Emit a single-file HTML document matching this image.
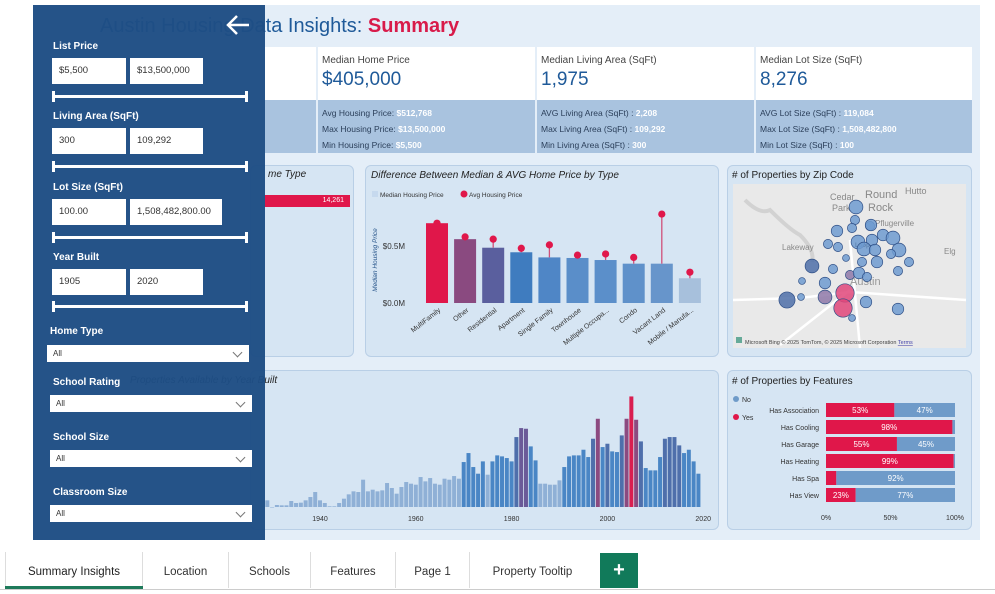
<!DOCTYPE html>
<html><head><meta charset="utf-8">
<style>
*{box-sizing:border-box;margin:0;padding:0}
body{width:995px;height:594px;overflow:hidden;background:#fff;font-family:"Liberation Sans",sans-serif;position:relative}
.abs{position:absolute}
.canvas{left:33px;top:5px;width:947px;height:535px;background:#e4eef8}
.card{background:#d6e5f3;border:1px solid #b9cfe6;border-radius:6px}
.kt{font-size:10px;color:#444}
.kv{font-size:19px;color:#1f5a99}
.ks{font-size:8.5px;color:#2b3f5a;line-height:16px}
.ks b{color:#fff}
.panel{left:33px;top:5px;width:232px;height:535px;background:rgba(30,77,132,0.97)}
.lbl{color:#fff;font-size:10px;font-weight:bold}
.inp{background:#fff;font-size:9.5px;color:#333;padding-left:7px;line-height:26px;height:26px}
.sl{height:3px;background:#fff}
.sl:before,.sl:after{content:"";position:absolute;top:-4px;width:3px;height:11px;background:#fff}
.sl:before{left:0}.sl:after{right:0}
.dd{background:#fff;height:17px;font-size:8px;color:#333;padding-left:6px;line-height:17px}
.dd:after{content:"";position:absolute;right:8px;top:4px;width:6px;height:6px;border-right:1px solid #777;border-bottom:1px solid #777;transform:rotate(45deg)}
.tab{top:552px;height:36px;font-size:11.5px;color:#333;text-align:center;line-height:40px;border-right:1px solid #ddd}
.ct{font-size:10px;font-style:italic;color:#222}
</style></head><body>
<div class="abs canvas"></div>
<div class="abs" style="left:100px;top:15px;font-size:20px;color:#1f5a99">Austin Housing Data Insights: <b style="color:#d81b4a">Summary</b></div>

<div class="abs" style="left:265px;top:47px;width:707px;height:53px;background:#fff"></div>
<div class="abs" style="left:265px;top:100px;width:707px;height:53px;background:#a9c3df"></div>
<div class="abs" style="left:316px;top:47px;width:2px;height:106px;background:#e4eef8"></div>
<div class="abs" style="left:535px;top:47px;width:2px;height:106px;background:#e4eef8"></div>
<div class="abs" style="left:754px;top:47px;width:2px;height:106px;background:#e4eef8"></div>
<div class="abs" style="left:322px;top:55px"><div class="kt">Median Home Price</div><div class="kv" style="margin-top:3px">$405,000</div></div>
<div class="abs" style="left:541px;top:55px"><div class="kt">Median Living Area (SqFt)</div><div class="kv" style="margin-top:3px">1,975</div></div>
<div class="abs" style="left:760px;top:55px"><div class="kt">Median Lot Size (SqFt)</div><div class="kv" style="margin-top:3px">8,276</div></div>
<div class="abs ks" style="left:322px;top:105px">Avg Housing Price: <b>$512,768</b><br>Max Housing Price: <b>$13,500,000</b><br>Min Housing Price: <b>$5,500</b></div>
<div class="abs ks" style="left:541px;top:105px">AVG Living Area (SqFt) : <b>2,208</b><br>Max Living Area (SqFt) : <b>109,292</b><br>Min Living Area (SqFt) : <b>300</b></div>
<div class="abs ks" style="left:760px;top:105px">AVG Lot Size (SqFt) : <b>119,084</b><br>Max Lot Size (SqFt) : <b>1,508,482,800</b><br>Min Lot Size (SqFt) : <b>100</b></div>

<div class="abs card" style="left:250px;top:165px;width:104px;height:192px"></div>
<div class="abs" style="left:265px;top:195px;width:85px;height:12px;background:#e0174a;color:#fff;font-size:7px;text-align:right;padding-right:6px;line-height:12px">14,261</div>
<div class="abs ct" style="left:268px;top:169px">me Type</div>
<div class="abs card" style="left:365px;top:165px;width:354px;height:192px"></div>
<div class="abs card" style="left:727px;top:165px;width:245px;height:192px"></div>
<div class="abs card" style="left:250px;top:370px;width:469px;height:160px"></div>
<div class="abs card" style="left:727px;top:370px;width:245px;height:160px"></div>

<svg class="abs" style="left:0;top:0" width="995" height="594" id="charts">
<text x="371" y="178" font-size="10" font-style="italic" fill="#222">Difference Between Median &amp; AVG Home Price by Type</text>
<rect x="372" y="191" width="6" height="6" fill="#c6d9ee"/><text x="380" y="197" font-size="6.5" fill="#333">Median Housing Price</text>
<circle cx="464" cy="194" r="3.5" fill="#e0174a"/><text x="469" y="197" font-size="6.5" fill="#333">Avg Housing Price</text>
<text x="377" y="260" font-size="6.5" font-style="italic" fill="#1f4e85" transform="rotate(-90 377 260)" text-anchor="middle">Median Housing Price</text>
<g id="priceChart"></g>
<g id="yearChart"></g>
<text x="732" y="178" font-size="10" fill="#222"># of Properties by Zip Code</text>
<rect x="733" y="184" width="233" height="164" fill="#e9e9e9"/>
<path d="M745 200 Q760 215 770 210 Q790 230 800 235 Q815 250 812 262" stroke="#d2d2d2" stroke-width="4" fill="none"/>
<path d="M733 300 L800 298 L850 292 L966 300 M850 240 L860 348 M780 345 L850 290" stroke="#fff" stroke-width="2.5" fill="none"/>
<text x="830" y="200" font-size="9" fill="#888">Cedar</text><text x="832" y="211" font-size="9" fill="#888">Park</text>
<text x="865" y="198" font-size="11" fill="#888">Round</text><text x="868" y="211" font-size="11" fill="#888">Rock</text>
<text x="905" y="194" font-size="9" fill="#888">Hutto</text><text x="875" y="226" font-size="8" fill="#888">Pflugerville</text>
<text x="782" y="250" font-size="8" fill="#888">Lakeway</text><text x="855" y="247" font-size="6" fill="#000" font-weight="bold">Loop</text>
<text x="944" y="254" font-size="8" fill="#888">Elg</text><text x="850" y="285" font-size="11" fill="#999">Austin</text>
<g id="mapChart"></g>
<rect x="736" y="337" width="6" height="6" fill="#6a9"/>
<text x="745" y="344" font-size="5.5" fill="#444">Microsoft Bing © 2025 TomTom, © 2025 Microsoft Corporation  <tspan fill="#44a" text-decoration="underline">Terms</tspan></text>
<text x="130" y="383" font-size="10" font-style="italic" fill="#222">Properties Available by Year Built</text>
<text x="732" y="384" font-size="10" fill="#222"># of Properties by Features</text>
<circle cx="736" cy="399" r="3" fill="#6f9bc9"/><text x="742" y="402" font-size="7" fill="#333">No</text>
<circle cx="736" cy="417" r="3" fill="#e0174a"/><text x="742" y="420" font-size="7" fill="#333">Yes</text>
<g id="featChart"></g>
</svg>

<div class="abs panel"></div>
<svg class="abs" style="left:225px;top:12px" width="28" height="26"><path d="M24 13 H4 M12 4 L3 13 L12 22" stroke="#fff" stroke-width="2.5" fill="none"/></svg>
<div class="abs lbl" style="left:53px;top:41px">List Price</div>
<div class="abs inp" style="left:52px;top:58px;width:74px">$5,500</div>
<div class="abs inp" style="left:130px;top:58px;width:73px">$13,500,000</div>
<div class="abs sl" style="left:52px;top:95px;width:196px"></div>
<div class="abs lbl" style="left:53px;top:111px">Living Area (SqFt)</div>
<div class="abs inp" style="left:52px;top:128px;width:74px">300</div>
<div class="abs inp" style="left:130px;top:128px;width:73px">109,292</div>
<div class="abs sl" style="left:52px;top:165px;width:196px"></div>
<div class="abs lbl" style="left:53px;top:182px">Lot Size (SqFt)</div>
<div class="abs inp" style="left:52px;top:199px;width:74px">100.00</div>
<div class="abs inp" style="left:130px;top:199px;width:92px">1,508,482,800.00</div>
<div class="abs sl" style="left:52px;top:236px;width:196px"></div>
<div class="abs lbl" style="left:53px;top:252px">Year Built</div>
<div class="abs inp" style="left:52px;top:269px;width:74px">1905</div>
<div class="abs inp" style="left:130px;top:269px;width:73px">2020</div>
<div class="abs sl" style="left:52px;top:305px;width:196px"></div>
<div class="abs lbl" style="left:50px;top:326px">Home Type</div>
<div class="abs dd" style="left:47px;top:345px;width:202px">All</div>
<div class="abs lbl" style="left:53px;top:377px">School Rating</div>
<div class="abs dd" style="left:50px;top:395px;width:202px">All</div>
<div class="abs lbl" style="left:53px;top:432px">School Size</div>
<div class="abs dd" style="left:50px;top:450px;width:202px">All</div>
<div class="abs lbl" style="left:53px;top:487px">Classroom Size</div>
<div class="abs dd" style="left:50px;top:505px;width:202px">All</div>

<div class="abs" style="left:0;top:589px;width:995px;height:1px;background:#ccc"></div>
<div class="abs tab" style="left:5px;width:138px;color:#222;border-left:1px solid #ddd">Summary Insights</div>
<div class="abs" style="left:5px;top:586px;width:138px;height:3px;background:#1e7a5a"></div>
<div class="abs tab" style="left:143px;width:86px">Location</div>
<div class="abs tab" style="left:229px;width:82px">Schools</div>
<div class="abs tab" style="left:311px;width:85px">Features</div>
<div class="abs tab" style="left:396px;width:74px">Page 1</div>
<div class="abs tab" style="left:470px;width:125px;border-right:none">Property Tooltip</div>
<div class="abs" style="left:600px;top:553px;width:38px;height:35px;background:#117a5a;color:#fff;font-size:20px;font-weight:bold;text-align:center;line-height:35px">+</div>

<script>
const NS="http://www.w3.org/2000/svg";
function mk(tag,attrs,parent,txt){const e=document.createElementNS(NS,tag);for(const k in attrs)e.setAttribute(k,attrs[k]);if(txt!=null)e.textContent=txt;parent.appendChild(e);return e;}

const types=["MultiFamily","Other","Residential","Apartment","Single Family","Townhouse","Multiple Occupa...","Condo","Vacant Land","Mobile / Manufa..."];
const medianPrice=[0.70,0.56,0.485,0.445,0.40,0.395,0.377,0.345,0.345,0.217];
const avgPrice=[0.70,0.58,0.56,0.48,0.51,0.42,0.43,0.40,0.78,0.27];
const priceTicks=[0,0.5];
const priceTickLabels=["$0.0M","$0.5M"];
const typeColors=["#e0174a","#8a4a80","#5a5f9e","#3f7cbf","#4f86c6","#5a8ec9","#5b8fca","#5f91ca","#6795cb","#a7c0dc"];
(function(){
  const g=document.getElementById("priceChart");
  const y=v=>303-v*114, x=i=>437+i*28.1, bw=22;
  priceTicks.forEach((t,i)=>{const el=mk("text",{x:405,y:y(t)+3,"font-size":8,fill:"#333","text-anchor":"end"},g,priceTickLabels[i]);
    
    });
  types.forEach((t,i)=>{
    const b=mk("rect",{x:x(i)-bw/2,y:y(medianPrice[i]),width:bw,height:y(0)-y(medianPrice[i]),fill:typeColors[i]},g);
    
    
    mk("line",{x1:x(i),x2:x(i),y1:y(avgPrice[i]),y2:y(medianPrice[i]),stroke:"#d0507a","stroke-width":1.3},g);
    const c=mk("circle",{cx:x(i),cy:y(avgPrice[i]),r:3.6,fill:"#e0174a"},g);
    
    
    const l=mk("text",{x:x(i)+4,y:311,"font-size":7,fill:"#333","text-anchor":"end",transform:`rotate(-38 ${x(i)+4} 311)`},g,t);
    
    
  });
})();

const years=[];for(let yy=1929;yy<=2020;yy++)years.push(yy);
const yearCounts=[20,0,6,5,5,18,12,13,20,30,45,20,12,2,2,12,25,38,47,45,82,47,52,47,50,72,57,40,60,75,70,67,90,77,87,70,67,85,82,93,85,135,162,120,100,137,97,137,155,152,147,137,210,237,235,182,140,70,70,67,67,80,120,152,155,155,172,150,205,265,180,190,167,165,215,265,332,262,197,117,110,110,150,205,210,210,185,162,172,137,100];
const yearTicks=[1940,1960,1980,2000,2020];
(function(){
  const g=document.getElementById("yearChart");
  const x=yy=>320+(yy-1940)*4.79, y=v=>507-v*0.333, max=Math.max(...yearCounts);
  function col(v){const t=v/max;
    if(t<0.3)return "#8fb0d6"; if(t<0.55)return "#4a86c5"; if(t<0.65)return "#4f6fab"; if(t<0.75)return "#6b5a98"; if(t<0.85)return "#8c4a80"; return "#d91e50";}
  years.forEach((yy,i)=>{const v=yearCounts[i];
    const b=mk("rect",{x:x(yy)-2,y:y(v),width:4,height:Math.max(0.5,507-y(v)),fill:col(v)},g);
    
    });
  yearTicks.forEach(t=>{const l=mk("text",{x:x(t),y:521,"font-size":7,fill:"#333","text-anchor":"middle"},g,t);
    
    });
})();

const zipX=[856,855,852,837,870,871,883,828,893,858,872,899,838,864,875,891,846,862,877,909,812,833,898,802,825,850,859,867,787,801,825,845,866,843,852,898];
const zipY=[207,220,228,231,226,225,235,244,238,242,240,250,247,249,250,254,258,262,262,262,266,269,271,281,283,275,273,277,300,297,297,293,302,308,318,309];
const zipCount=[6,4,4,5,4,5,5,4,6,6,5,6,4,6,5,4,3,4,5,4,6,4,4,3,5,4,5,4,7,3,6,8,5,8,3,5];
const zipColor=[0,0,0,0,0,0,0,0,0,0,0,0,0,0,0,0,0,0,0,0,1,0,0,0,0,2,0,0,1,0,2,3,0,3,0,0];
(function(){
  const g=document.getElementById("mapChart");
  const fills=["#6f9bd0","#4d6ea8","#8e78a8","#e0477a"];
  zipX.forEach((v,i)=>{const c=mk("circle",{cx:v,cy:zipY[i],r:zipCount[i]*1.15,fill:fills[zipColor[i]],"fill-opacity":0.85,stroke:"#2f4f86","stroke-width":0.7},g);
    
    });
})();

const features=["Has Association","Has Cooling","Has Garage","Has Heating","Has Spa","Has View"];
const yesPct=[53,98,55,99,8,23];
const pctTicks=[0,50,100];
(function(){
  const g=document.getElementById("featChart");
  const x=p=>826+p*1.29;
  features.forEach((f,i)=>{const cy=410+i*17;
    const l=mk("text",{x:819,y:cy+3,"font-size":7,fill:"#333","text-anchor":"end"},g,f);
    
    
    const a=mk("rect",{x:x(0),y:cy-7,width:x(yesPct[i])-x(0),height:14,fill:"#e0174a"},g);
    
    
    const b=mk("rect",{x:x(yesPct[i]),y:cy-7,width:x(100)-x(yesPct[i]),height:14,fill:"#6f9bc9"},g);
    
    
    if(yesPct[i]>15)mk("text",{x:(x(0)+x(yesPct[i]))/2,y:cy+3,"font-size":8,fill:"#fff","text-anchor":"middle"},g,yesPct[i]+"%");
    if(100-yesPct[i]>15)mk("text",{x:(x(yesPct[i])+x(100))/2,y:cy+3,"font-size":8,fill:"#fff","text-anchor":"middle"},g,(100-yesPct[i])+"%");
  });
  pctTicks.forEach(t=>{const l=mk("text",{x:x(t),y:520,"font-size":7,fill:"#333","text-anchor":"middle"},g,t+"%");
    
    });
})();
</script>
</body></html>
